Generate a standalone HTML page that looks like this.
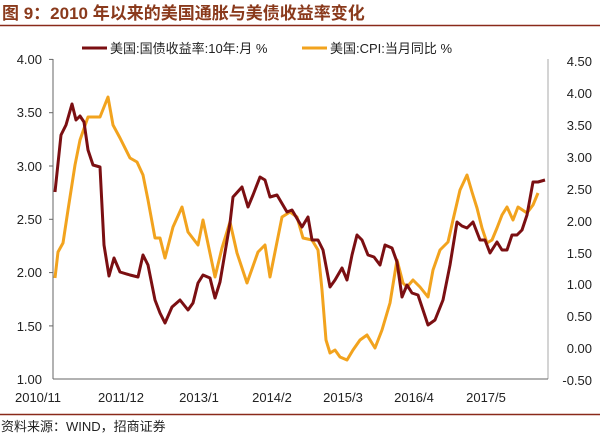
<!DOCTYPE html>
<html><head><meta charset="utf-8"><style>
body{margin:0;background:#fff;}
svg{display:block;font-family:"Liberation Sans","Noto Sans CJK SC",sans-serif;}
</style></head><body>
<svg width="600" height="436" viewBox="0 0 600 436">
<text x="2" y="19" font-size="17" font-weight="bold" fill="#8a3a1c" font-family="Liberation Sans,Noto Sans CJK SC,sans-serif">图 9：2010 年以来的美国通胀与美债收益率变化</text>
<line x1="0" y1="25.5" x2="600" y2="25.5" stroke="#8a2a1a" stroke-width="1.5"/>
<line x1="82" y1="48" x2="107" y2="48" stroke="#7b0f12" stroke-width="3"/>
<text x="110" y="53" font-size="13" fill="#222">美国:国债收益率:10年:月 %</text>
<line x1="302" y1="48" x2="327" y2="48" stroke="#f2a31e" stroke-width="3"/>
<text x="330" y="53" font-size="13" fill="#222">美国:CPI:当月同比 %</text>
<line x1="53" y1="59" x2="53" y2="379" stroke="#666"/>
<line x1="548" y1="59" x2="548" y2="379" stroke="#aaa"/>
<line x1="53" y1="379" x2="548" y2="379" stroke="#666"/>
<g stroke="#666">
<line x1="49" y1="59.4" x2="53" y2="59.4"/><line x1="49" y1="112.7" x2="53" y2="112.7"/><line x1="49" y1="166" x2="53" y2="166"/><line x1="49" y1="219.3" x2="53" y2="219.3"/><line x1="49" y1="272.6" x2="53" y2="272.6"/><line x1="49" y1="325.9" x2="53" y2="325.9"/>
</g>
<g font-size="13" fill="#222" text-anchor="end">
<text x="42" y="64">4.00</text><text x="42" y="117">3.50</text><text x="42" y="171">3.00</text><text x="42" y="224">2.50</text><text x="42" y="277">2.00</text><text x="42" y="331">1.50</text><text x="42" y="384">1.00</text>
</g>
<g font-size="13" fill="#222" text-anchor="end">
<text x="592" y="66">4.50</text><text x="592" y="98">4.00</text><text x="592" y="130">3.50</text><text x="592" y="162">3.00</text><text x="592" y="194">2.50</text><text x="592" y="226">2.00</text><text x="592" y="258">1.50</text><text x="592" y="289">1.00</text><text x="592" y="321">0.50</text><text x="592" y="353">0.00</text><text x="592" y="385">-0.50</text>
</g>
<g font-size="13" fill="#222" text-anchor="middle">
<text x="38" y="402">2010/11</text><text x="121" y="402">2011/12</text><text x="199" y="402">2013/1</text><text x="272" y="402">2014/2</text><text x="343" y="402">2015/3</text><text x="414" y="402">2016/4</text><text x="486" y="402">2017/5</text>
</g>
<polyline fill="none" stroke="#f2a31e" stroke-width="3" stroke-linejoin="round" points="55,278 58,252 63,243 68,210 75,165 80,140 88,117 100,117 108,97 113,125 120,138 130,158 137,162 143,175 148,200 155,238 160,238 165,258 173,227 182,207 188,232 198,245 203,220 215,277 222,248 230,222 237,253 247,283 258,252 265,245 270,277 282,217 290,212 297,217 303,238 312,240 318,250 322,290 326,340 330,353 335,350 340,357 347,360 353,350 360,340 367,335 375,348 382,330 390,303 397,260 403,283 407,287 413,280 420,287 428,297 433,270 440,250 448,242 453,220 460,190 467,175 472,192 477,208 482,228 487,243 492,240 497,228 502,215 507,207 513,220 518,207 527,213 533,205 538,193"/>
<polyline fill="none" stroke="#7b0f12" stroke-width="3" stroke-linejoin="round" points="55,192 61,135 66,125 72,104 76,120 80,116 84,122 88,150 93,165 100,167 104,245 109,276 114,258 120,272 130,275 138,277 143,255 148,265 155,300 160,313 165,323 172,307 180,300 188,310 193,303 198,283 203,275 210,278 215,298 220,282 230,223 233,197 242,187 248,207 253,195 260,177 265,180 270,197 277,195 287,212 292,210 302,227 308,217 312,240 318,240 323,250 330,287 335,280 342,268 347,280 352,255 357,235 362,240 368,255 374,257 380,265 385,245 392,248 397,262 402,297 407,285 412,293 418,295 423,310 428,325 435,320 443,300 450,265 457,222 462,226 467,228 473,222 480,240 485,240 490,253 497,242 502,250 507,250 512,235 517,235 522,230 527,215 533,182 538,182 545,180"/>
<line x1="0" y1="414.5" x2="600" y2="414.5" stroke="#8a2a1a" stroke-width="1.5"/>
<text x="1" y="431" font-size="13" fill="#222">资料来源：WIND，招商证券</text>
</svg>
</body></html>
